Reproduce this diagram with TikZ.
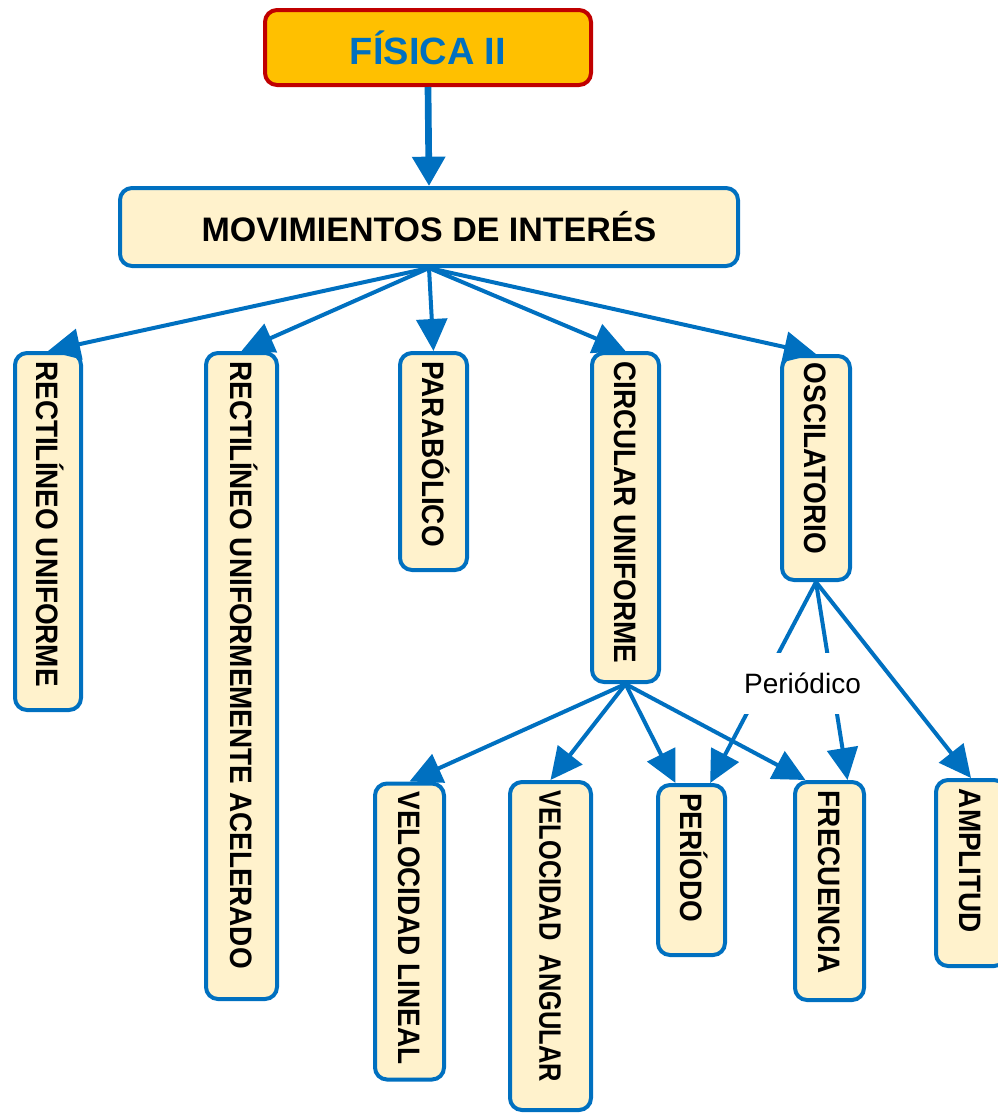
\documentclass[tikz,border=0pt]{standalone}
\usepackage{fontspec}
\setmainfont{Liberation Sans}
\newfontfamily\vfont[FakeStretch=0.9]{Liberation Sans}
\newfontfamily\vfontn[FakeStretch=0.82]{Liberation Sans}
\usetikzlibrary{arrows.meta}
\definecolor{cblue}{HTML}{0070C0}
\definecolor{cream}{HTML}{FFF2CC}
\definecolor{gold}{HTML}{FFC000}
\definecolor{cred}{HTML}{C00000}
\tikzset{
  cbox/.style={draw=cblue, line width=3pt, fill=cream, rounded corners=9pt, inner sep=0pt},
  topbox/.style={draw=cred, line width=3pt, fill=gold, rounded corners=9pt, inner sep=0pt},
  vtxt/.style={font=\vfont\bfseries\fontsize{23.25pt}{26pt}\selectfont, rotate=-90, anchor=west,
    inner sep=0pt, text height=16.6pt, text depth=0pt},
  vtxtn/.style={vtxt, font=\vfontn\bfseries\fontsize{23.25pt}{26pt}\selectfont},
  conn/.style={draw=cblue, line width=3pt, -{Triangle[length=24pt,width=23pt]}},
  thickconn/.style={draw=cblue, line width=5pt, -{Triangle[length=22pt,width=24pt]}},
  lab/.style={fill=white, inner sep=0pt, minimum width=92pt, minimum height=45.75pt,
    font=\fontsize{21pt}{24pt}\selectfont, text height=15pt, text depth=0pt},
}
\begin{document}
\begin{tikzpicture}[x=0.75pt,y=-0.75pt]
\useasboundingbox (0,0) rectangle (998,1115);
% top boxes
\node[topbox, minimum width=244.5pt, minimum height=56.25pt,
      font=\bfseries\fontsize{28.5pt}{32pt}\selectfont, text=cblue] (fis) at (428,47.5) {FÍSICA II};
\node[cbox, minimum width=463.5pt, minimum height=58.5pt,
      font=\bfseries\fontsize{25.5pt}{30pt}\selectfont] (mov) at (429,227) {MOVIMIENTOS DE INTERÉS};
% second level boxes
\node[cbox, minimum width=49.5pt, minimum height=267.75pt] (ru) at (48,531.5) {};
\node[cbox, minimum width=53.25pt, minimum height=484.5pt] (rua) at (241.5,676) {};
\node[cbox, minimum width=50.25pt, minimum height=162.75pt] (par) at (433.5,461.5) {};
\node[cbox, minimum width=50.25pt, minimum height=246.75pt] (cu) at (625.5,517.5) {};
\node[cbox, minimum width=51pt, minimum height=168pt] (osc) at (816,468) {};
% third level boxes
\node[cbox, minimum width=51.75pt, minimum height=222pt] (vl) at (409.5,931.5) {};
\node[cbox, minimum width=60.75pt, minimum height=246pt] (va) at (550.5,946) {};
\node[cbox, minimum width=50.25pt, minimum height=127.5pt] (per) at (691.5,870) {};
\node[cbox, minimum width=51.75pt, minimum height=163.5pt] (frec) at (829.5,891) {};
\node[cbox, minimum width=52.5pt, minimum height=139.5pt] (amp) at (971,873) {};
% vertical texts
\node[vtxt] (ru-t) at ([yshift=-7.5pt]ru.north) {RECTILÍNEO UNIFORME};
\node[vtxt] (rua-t) at ([yshift=-7.5pt]rua.north) {RECTILÍNEO UNIFORMEMENTE ACELERADO};
\node[vtxt] (par-t) at ([yshift=-7.5pt]par.north) {PARABÓLICO};
\node[vtxt] (cu-t) at ([yshift=-7.5pt]cu.north) {CIRCULAR UNIFORME};
\node[vtxt] (osc-t) at ([yshift=-6.5pt]osc.north) {OSCILATORIO};
\node[vtxt] (vl-t) at ([yshift=-7.5pt]vl.north) {VELOCIDAD LINEAL};
\node[vtxtn] (va-t) at ([yshift=-8pt]va.north) {VELOCIDAD\ \ ANGULAR};
\node[vtxt] (per-t) at ([yshift=-7.5pt]per.north) {PERÍODO};
\node[vtxt] (frec-t) at ([yshift=-8pt]frec.north) {FRECUENCIA};
\node[vtxt] (amp-t) at ([yshift=-8pt]amp.north) {AMPLITUD};
% connectors
\draw[thickconn] (fis.south) -- (mov.north);
\draw[conn] (mov.south) -- (ru.north);
\draw[conn] (mov.south) -- (rua.north);
\draw[conn] (mov.south) -- (par.north);
\draw[conn] (mov.south) -- (cu.north);
\draw[conn] (mov.south) -- (osc.north);
\draw[conn] (cu.south) -- (vl.north);
\draw[conn] (cu.south) -- (va.north);
\draw[conn] (cu.south) -- ([xshift=-12pt]per.north);
\draw[conn] (cu.south) -- ([xshift=-18pt]frec.north);
\draw[conn] (osc.south) -- ([xshift=14pt]per.north);
\draw[conn] (osc.south) -- ([xshift=13.5pt]frec.north);
\draw[conn] (osc.south) -- (amp.north);
% linking phrase
\node[lab] (lp) at (802.5,683.5) {Periódico};
\end{tikzpicture}
\end{document}
